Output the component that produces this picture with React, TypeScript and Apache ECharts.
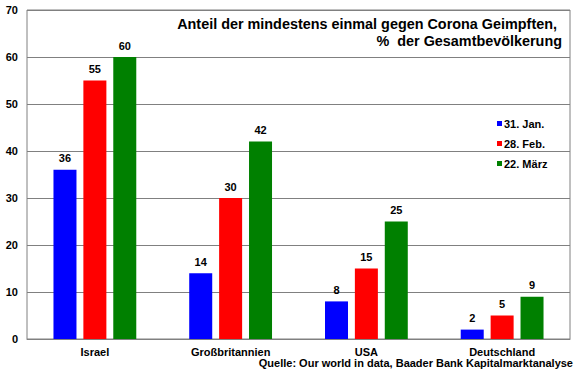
import React, { useEffect, useRef } from "react";
import * as echarts from "echarts";

const categories = ["Israel", "Großbritannien", "USA", "Deutschland"];
const seriesNames = ["31. Jan.", "28. Feb.", "22. März"];
const jan = [36, 14, 8, 2];
const feb = [55, 30, 15, 5];
const mar = [60, 42, 25, 9];
const colors = ["#0000ff", "#ff0000", "#008000"];
const titleLines = ["Anteil der mindestens einmal gegen Corona Geimpften,", "%  der Gesamtbevölkerung"];
const sourceText = "Quelle: Our world in data, Baader Bank Kapitalmarktanalyse";

const FONT = "'Liberation Sans', Arial, sans-serif";

export default function App() {
  const ref = useRef<HTMLDivElement>(null);
  useEffect(() => {
    if (!ref.current) return;
    const chart = echarts.init(ref.current, null, { renderer: "svg" });
    const data = [jan, feb, mar];
    chart.setOption({
      animation: false,
      backgroundColor: "#ffffff",
      textStyle: { fontFamily: FONT },
      grid: {
        left: 27,
        top: 10,
        right: 10,
        bottom: 36,
        show: true,
        borderColor: "#808080",
        borderWidth: 1,
      },
      legend: {
        orient: "vertical",
        left: 492,
        top: 113,
        itemWidth: 5,
        itemHeight: 5,
        itemGap: 9,
        icon: "rect",
        data: seriesNames,
        textStyle: { fontFamily: FONT, fontWeight: "bold", fontSize: 11, color: "#000", padding: [0, 0, 0, -3] },
      },
      xAxis: {
        type: "category",
        data: categories,
        axisLine: { lineStyle: { color: "#808080" } },
        axisTick: { show: false },
        axisLabel: { color: "#000", fontWeight: "bold", fontSize: 11, fontFamily: FONT, margin: 7 },
      },
      yAxis: {
        type: "value",
        min: 0,
        max: 70,
        interval: 10,
        axisLine: { show: false },
        axisTick: { show: false },
        splitLine: { lineStyle: { color: "#808080" } },
        axisLabel: { color: "#000", fontWeight: "bold", fontSize: 11, fontFamily: FONT, margin: 9 },
      },
      series: data.map((d, i) => ({
        name: seriesNames[i],
        type: "bar",
        data: d,
        barGap: "30%",
        barCategoryGap: "39%",
        itemStyle: { color: colors[i] },
        label: {
          show: true,
          position: "top",
          distance: 6,
          color: "#000",
          fontWeight: "bold",
          fontSize: 11,
          fontFamily: FONT,
        },
      })),
      graphic: [
        {
          type: "text",
          right: 23,
          top: 17,
          style: {
            text: titleLines[0],
            fill: "#000",
            font: `bold 14.4px ${FONT}`,
            textAlign: "right",
          },
        },
        {
          type: "text",
          right: 18,
          top: 34,
          style: {
            text: titleLines[1],
            fill: "#000",
            font: `bold 14.4px ${FONT}`,
            textAlign: "right",
          },
        },
        {
          type: "text",
          right: 7,
          top: 357,
          style: {
            text: sourceText,
            fill: "#000",
            font: `bold 11px ${FONT}`,
            textAlign: "right",
          },
        },
      ],
    });
    return () => chart.dispose();
  }, []);
  return <div ref={ref} style={{ width: 580, height: 375, position: "absolute", left: 0, top: 0 }} />;
}
